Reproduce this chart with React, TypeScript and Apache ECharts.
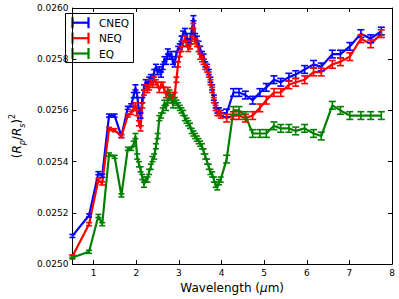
import React, { useEffect, useRef } from "react";
import * as echarts from "echarts";

// ---- data ----
const WAVELENGTH = [
  0.5, 0.89, 1.11, 1.2, 1.36, 1.49, 1.65, 1.8, 1.88,
  1.94, 1.98, 2.02, 2.06, 2.1, 2.14, 2.18, 2.22, 2.26, 2.3, 2.34, 2.38, 2.42, 2.46, 2.5, 2.54, 2.58, 2.62, 2.66, 2.7,
  2.74, 2.78, 2.82, 2.86, 2.9, 2.94, 2.98, 3.02, 3.06, 3.1, 3.14, 3.18, 3.22, 3.26, 3.3, 3.34, 3.38, 3.42, 3.46, 3.5,
  3.54, 3.58, 3.62, 3.66, 3.7, 3.74, 3.78, 3.82, 3.86, 3.9, 3.94, 3.98,
  4.12, 4.28, 4.41, 4.56, 4.73, 4.9, 5.05, 5.23, 5.39, 5.58, 5.74, 5.95, 6.16, 6.34, 6.6, 6.79, 7.01, 7.27, 7.5, 7.75,
];

const CNEQ = [
  0.02511, 0.02519, 0.025355, 0.025345, 0.02558, 0.02558, 0.0255, 0.02561, 0.02562,
  0.02566, 0.02569, 0.02566, 0.0256, 0.02558, 0.02564, 0.02569, 0.02571, 0.0257, 0.02572, 0.02573, 0.02572, 0.02575, 0.02577, 0.02575, 0.02576, 0.02574, 0.02577, 0.0258, 0.02579,
  0.02583, 0.02581, 0.02582, 0.02579, 0.02578, 0.02582, 0.02584, 0.02585, 0.02588, 0.0259, 0.02591, 0.02589, 0.02586, 0.02587, 0.02591, 0.02596, 0.02589, 0.02588, 0.02586, 0.02584,
  0.02582, 0.02581, 0.02578, 0.02577, 0.02575, 0.02572, 0.02569, 0.02565, 0.02562, 0.0256, 0.0256, 0.02559,
  0.02559, 0.02567, 0.02567, 0.02566, 0.02564, 0.02567, 0.02569, 0.02572, 0.02571, 0.02573, 0.02574, 0.02576, 0.02578, 0.02577, 0.02582, 0.02582, 0.02585, 0.0259, 0.02588, 0.02591,
];

const NEQ = [
  0.02503, 0.025156, 0.025328, 0.025315, 0.025528, 0.025523, 0.0255, 0.02558, 0.02559,
  0.02561, 0.02562, 0.02559, 0.02555, 0.02553, 0.02562, 0.02567, 0.02569, 0.02568, 0.02569, 0.02571, 0.0257, 0.02572, 0.02571, 0.0257, 0.02568, 0.0257, 0.0257, 0.02568, 0.02566,
  0.02568, 0.02565, 0.02564, 0.02566, 0.02566, 0.02572, 0.02578, 0.02582, 0.02584, 0.02586, 0.02588, 0.02586, 0.02584, 0.02585, 0.02588, 0.02593, 0.02587, 0.02586, 0.02584, 0.02581,
  0.0258, 0.02579, 0.02577, 0.02576, 0.02574, 0.02571, 0.02568, 0.02564, 0.02561, 0.02559, 0.02559, 0.02558,
  0.02557, 0.02558, 0.02558, 0.02557, 0.02558, 0.02561, 0.02564, 0.02567, 0.02567, 0.0257, 0.02571, 0.02572, 0.02575, 0.02575, 0.02578, 0.02579, 0.02581, 0.02588, 0.02586, 0.0259,
];

const EQ = [
  0.025026, 0.025048, 0.025188, 0.025156, 0.025428, 0.025419, 0.025268, 0.02545, 0.02545,
  0.02547, 0.0255, 0.02542, 0.02539, 0.02537, 0.02534, 0.02531, 0.02533, 0.02533, 0.02536, 0.02538, 0.02541, 0.02542, 0.02546, 0.0255, 0.02557, 0.02558, 0.0256, 0.02563, 0.02561,
  0.02564, 0.02567, 0.02565, 0.02562, 0.02564, 0.02563, 0.02562, 0.02561, 0.0256, 0.02559, 0.02557, 0.02556, 0.02555, 0.02554, 0.02552, 0.02551, 0.0255, 0.02549, 0.02548, 0.02547,
  0.02546, 0.02544, 0.02542, 0.0254, 0.02538, 0.02536, 0.02535, 0.02533, 0.02531, 0.0253, 0.02532, 0.02533,
  0.02541, 0.0256, 0.0256, 0.02558, 0.02551, 0.02551, 0.02551, 0.02554, 0.02553, 0.02553, 0.02552, 0.02553, 0.02551, 0.0255, 0.02562, 0.0256, 0.02558, 0.02558, 0.02558, 0.02558,
];

// half-height of the error bars (short, dense and long wavelength groups)
const ERR_SHORT = 0.000006;
const ERR_DENSE = 0.00001;
const ERR_LONG = 0.000015;

const X_TICKS = [1, 2, 3, 4, 5, 6, 7, 8];
const Y_TICKS = [0.025, 0.0252, 0.0254, 0.0256, 0.0258, 0.026];

const SERIES = [
  { name: "CNEQ", color: "#0000ff", values: CNEQ },
  { name: "NEQ", color: "#ff0000", values: NEQ },
  { name: "EQ", color: "#008000", values: EQ },
];

const FONT = "DejaVu Sans";

function errOf(i: number): number {
  if (i < 9) return ERR_SHORT;
  if (WAVELENGTH[i] < 4.05) return ERR_DENSE;
  return ERR_LONG;
}

function legendGraphic() {
  const box = { x: 65, y: 13, w: 68, h: 49 };
  const rowY = [22.7, 38.2, 53.5];
  const children: any[] = [
    {
      type: "rect",
      shape: { x: box.x + 0.5, y: box.y + 0.5, width: box.w, height: box.h },
      style: { fill: "#fff", stroke: "#000", lineWidth: 1 },
    },
  ];
  SERIES.forEach((s, i) => {
    const cy = rowY[i];
    const x1 = 72.5;
    const x2 = 88.5;
    const st = { stroke: s.color, lineWidth: 2.2 };
    children.push(
      { type: "line", shape: { x1, y1: cy, x2, y2: cy }, style: st },
      { type: "line", shape: { x1, y1: cy - 5.5, x2: x1, y2: cy + 5.5 }, style: st },
      { type: "line", shape: { x1: x2, y1: cy - 5.5, x2, y2: cy + 5.5 }, style: st },
      {
        type: "text",
        x: 99,
        y: cy,
        style: { text: s.name, fill: "#000", font: `10.5px "${FONT}"`, verticalAlign: "middle", align: "left" },
      }
    );
  });
  return [{ type: "group", z: 100, children }];
}

export default function App() {
  const ref = useRef<HTMLDivElement>(null);

  useEffect(() => {
    if (!ref.current) return;
    const chart = echarts.init(ref.current, undefined, { renderer: "svg" });

    const series: any[] = [];
    SERIES.forEach((s) => {
      const lineData = WAVELENGTH.map((x, i) => [x, s.values[i]]);
      const errData = WAVELENGTH.map((x, i) => [x, s.values[i], s.values[i] - errOf(i), s.values[i] + errOf(i)]);
      series.push({
        name: s.name,
        type: "line",
        data: lineData,
        symbol: "none",
        color: s.color,
        itemStyle: { color: s.color },
        lineStyle: { color: s.color, width: 2.2 },
        z: 2,
      });
      series.push({
        name: s.name,
        type: "custom",
        data: errData,
        color: s.color,
        itemStyle: { color: s.color },
        encode: { x: 0, y: [1, 2, 3] },
        z: 3,
        renderItem: (_params: any, api: any) => {
          const x = api.value(0);
          const lo = api.value(2);
          const hi = api.value(3);
          const pHi = api.coord([x, hi]);
          const pLo = api.coord([x, lo]);
          const cw = x > 4.05 ? 3.5 : 3;
          const st = { stroke: s.color, lineWidth: 1.6 };
          return {
            type: "group",
            children: [
              { type: "line", shape: { x1: pHi[0], y1: pHi[1], x2: pLo[0], y2: pLo[1] }, style: st },
              { type: "line", shape: { x1: pHi[0] - cw, y1: pHi[1], x2: pHi[0] + cw, y2: pHi[1] }, style: st },
              { type: "line", shape: { x1: pLo[0] - cw, y1: pLo[1], x2: pLo[0] + cw, y2: pLo[1] }, style: st },
            ],
          };
        },
      });
    });

    const axisLine = { show: true, lineStyle: { color: "#000", width: 1 } };
    const tickStyle = { color: "#000", width: 1 };

    const option: any = {
      animation: false,
      backgroundColor: "#ffffff",
      grid: { left: 60, top: 8, width: 332, height: 257, containLabel: false },
      graphic: legendGraphic(),
      xAxis: [
        {
          type: "value",
          min: 0.5,
          max: 8,
          position: "bottom",
          axisLine,
          axisTick: { show: true, inside: true, length: 4, customValues: X_TICKS, lineStyle: tickStyle },
          axisLabel: { customValues: X_TICKS, color: "#000", fontSize: 9, fontFamily: FONT, margin: 4, formatter: (v: number) => String(v) },
          splitLine: { show: false },
          name: "{n|Wavelength (}{i|μ}{n|m)}",
          nameLocation: "middle",
          nameGap: 13,
          nameTextStyle: {
            rich: {
              n: { fontFamily: FONT, fontSize: 12, color: "#000" },
              i: { fontFamily: FONT, fontSize: 12, color: "#000", fontStyle: "italic" },
            },
          },
        },
        {
          type: "value",
          min: 0.5,
          max: 8,
          position: "top",
          axisLine,
          axisTick: { show: true, inside: true, length: 4, customValues: X_TICKS, lineStyle: tickStyle },
          axisLabel: { show: false },
          splitLine: { show: false },
        },
      ],
      yAxis: [
        {
          type: "value",
          min: 0.025,
          max: 0.026,
          position: "left",
          axisLine,
          axisTick: { show: true, inside: true, length: 4, customValues: Y_TICKS, lineStyle: tickStyle },
          axisLabel: { customValues: Y_TICKS, color: "#000", fontSize: 9, fontFamily: FONT, margin: 4, formatter: (v: number) => v.toFixed(4) },
          splitLine: { show: false },
          name: "{n|(}{i|R}{sub|p}{n|/}{i|R}{sub|s}{n|)}{sup|2}",
          nameLocation: "middle",
          nameRotate: 90,
          nameGap: 40,
          nameTextStyle: {
            rich: {
              n: { fontFamily: FONT, fontSize: 12, color: "#000", lineHeight: 18 },
              i: { fontFamily: FONT, fontSize: 12, color: "#000", fontStyle: "italic", lineHeight: 18 },
              sub: { fontFamily: FONT, fontSize: 8, color: "#000", fontStyle: "italic", verticalAlign: "bottom", lineHeight: 18 },
              sup: { fontFamily: FONT, fontSize: 8, color: "#000", verticalAlign: "top", lineHeight: 18 },
            },
          },
        },
        {
          type: "value",
          min: 0.025,
          max: 0.026,
          position: "right",
          axisLine,
          axisTick: { show: true, inside: true, length: 4, customValues: Y_TICKS, lineStyle: tickStyle },
          axisLabel: { show: false },
          splitLine: { show: false },
        },
      ],
      series,
    };

    chart.setOption(option);
    return () => chart.dispose();
  }, []);

  return (
    <div
      ref={ref}
      style={{ position: "fixed", left: 0, top: 0, width: 399, height: 299, background: "#fff" }}
    />
  );
}
